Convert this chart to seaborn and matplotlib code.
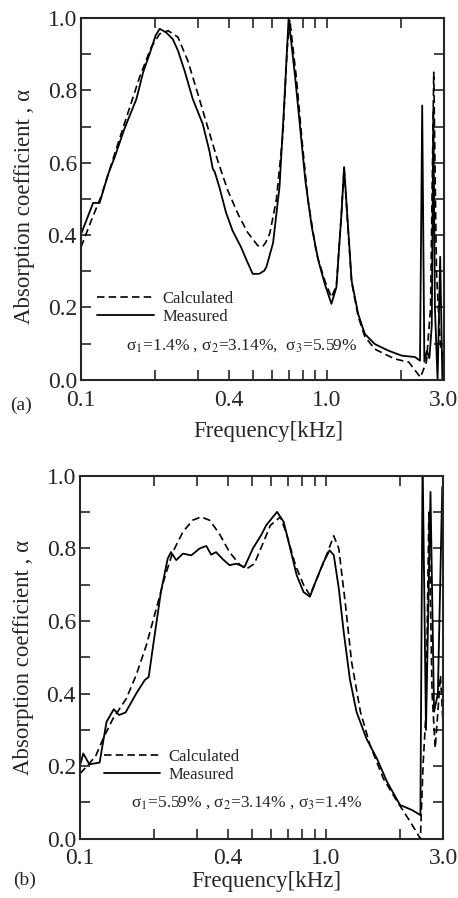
import numpy as np
import pandas as pd
import matplotlib
matplotlib.use("Agg")
import matplotlib.pyplot as plt
from matplotlib.ticker import FixedLocator, NullFormatter
import seaborn as sns

# ---------------------------------------------------------------
# Data (frequency in kHz, absorption coefficient)
# ---------------------------------------------------------------

# panel (a) : sigma1=1.4%, sigma2=3.14%, sigma3=5.59%
a_meas_f = [0.100, 0.112, 0.119, 0.129, 0.137, 0.150, 0.168, 0.179, 0.190, 0.201,
            0.209, 0.222, 0.236, 0.248, 0.264, 0.285, 0.313, 0.333, 0.344, 0.350,
            0.366, 0.389, 0.414, 0.448, 0.476, 0.500, 0.532, 0.558, 0.569, 0.605,
            0.643, 0.673, 0.700, 0.742, 0.782, 0.819, 0.870, 0.925, 0.983, 1.046,
            1.096, 1.149, 1.178, 1.218, 1.264, 1.344, 1.430, 1.570, 1.780, 2.020,
            2.290, 2.400, 2.450, 2.500, 2.560, 2.620, 2.680, 2.720, 2.760, 2.830,
            2.900, 2.960]
a_meas_alpha = [0.403, 0.489, 0.489, 0.569, 0.615, 0.693, 0.776, 0.850, 0.900, 0.951,
                0.970, 0.960, 0.942, 0.910, 0.854, 0.776, 0.707, 0.633, 0.583, 0.575,
                0.532, 0.463, 0.412, 0.367, 0.325, 0.293, 0.293, 0.302, 0.313, 0.378,
                0.534, 0.773, 0.998, 0.845, 0.689, 0.551, 0.422, 0.330, 0.265, 0.210,
                0.256, 0.459, 0.588, 0.440, 0.274, 0.182, 0.127, 0.099, 0.081, 0.067,
                0.063, 0.053, 0.758, 0.050, 0.080, 0.060, 0.150, 0.750, 0.200, 0.000,
                0.340, 0.000]

a_calc_f = [0.100, 0.110, 0.121, 0.133, 0.150, 0.173, 0.193, 0.209, 0.226, 0.248,
            0.272, 0.299, 0.328, 0.360, 0.396, 0.435, 0.476, 0.524, 0.549, 0.565,
            0.587, 0.624, 0.664, 0.690, 0.708, 0.755, 0.794, 0.840, 0.910, 0.983,
            1.046, 1.096, 1.149, 1.178, 1.218, 1.264, 1.344, 1.430, 1.570, 1.890,
            2.160, 2.410, 2.550, 2.650, 2.730, 2.800, 2.900, 3.000]
a_calc_alpha = [0.367, 0.440, 0.509, 0.597, 0.707, 0.836, 0.919, 0.956, 0.965, 0.947,
                0.882, 0.790, 0.698, 0.606, 0.523, 0.459, 0.408, 0.371, 0.368, 0.380,
                0.405, 0.497, 0.681, 0.910, 0.995, 0.827, 0.661, 0.495, 0.348, 0.274,
                0.228, 0.260, 0.460, 0.585, 0.430, 0.270, 0.175, 0.120, 0.085, 0.058,
                0.049, 0.007, 0.050, 0.200, 0.850, 0.300, 0.100, 0.050]

# panel (b) : sigma1=5.59%, sigma2=3.14%, sigma3=1.4%
b_meas_f = [0.100, 0.103, 0.109, 0.120, 0.128, 0.137, 0.144, 0.153, 0.169, 0.183,
            0.190, 0.200, 0.213, 0.227, 0.234, 0.246, 0.262, 0.283, 0.306, 0.326,
            0.341, 0.357, 0.381, 0.405, 0.431, 0.466, 0.504, 0.545, 0.571, 0.632,
            0.673, 0.715, 0.760, 0.810, 0.860, 0.917, 0.978, 1.034, 1.075, 1.127,
            1.180, 1.250, 1.330, 1.460, 1.610, 1.770, 2.000, 2.240, 2.420, 2.470,
            2.550, 2.660, 2.750, 2.850, 2.970]
b_meas_alpha = [0.203, 0.235, 0.205, 0.210, 0.322, 0.357, 0.341, 0.348, 0.400, 0.437,
                0.446, 0.552, 0.680, 0.772, 0.790, 0.768, 0.786, 0.781, 0.800, 0.807,
                0.783, 0.790, 0.770, 0.754, 0.758, 0.749, 0.800, 0.837, 0.864, 0.901,
                0.873, 0.800, 0.726, 0.680, 0.667, 0.717, 0.763, 0.795, 0.782, 0.690,
                0.570, 0.440, 0.350, 0.276, 0.221, 0.157, 0.093, 0.079, 0.065, 1.050,
                0.300, 0.956, 0.350, 0.400, 0.970]

b_calc_f = [0.100, 0.109, 0.116, 0.124, 0.136, 0.154, 0.169, 0.186, 0.204, 0.220,
            0.238, 0.262, 0.287, 0.310, 0.336, 0.368, 0.405, 0.445, 0.473, 0.511,
            0.553, 0.594, 0.652, 0.693, 0.751, 0.810, 0.860, 0.930, 1.010, 1.075,
            1.127, 1.200, 1.270, 1.380, 1.510, 1.710, 1.950, 2.200, 2.420, 2.480,
            2.550, 2.620, 2.700, 2.780, 2.850, 2.920, 3.000]
b_calc_alpha = [0.180, 0.207, 0.230, 0.276, 0.331, 0.386, 0.451, 0.534, 0.634, 0.717,
                0.790, 0.846, 0.878, 0.887, 0.878, 0.841, 0.790, 0.756, 0.743, 0.758,
                0.813, 0.864, 0.887, 0.837, 0.754, 0.700, 0.671, 0.726, 0.786, 0.835,
                0.800, 0.644, 0.488, 0.350, 0.258, 0.166, 0.102, 0.047, 0.000, 0.200,
                0.350, 0.900, 0.400, 0.250, 0.350, 0.450, 0.300]

x_ticks = [0.1, 0.4, 1.0, 3.0]
x_ticklabels = ["0.1", "0.4", "1.0", "3.0"]
x_minor = [0.2, 0.3, 0.5, 0.6, 0.7, 0.8, 0.9, 2.0]
y_ticks = [0.0, 0.2, 0.4, 0.6, 0.8, 1.0]
y_ticklabels = ["0.0", "0.2", "0.4", "0.6", "0.8", "1.0"]
y_minor = [0.1, 0.3, 0.5, 0.7, 0.9]

sigma_a = "σ$_1$=1.4% , σ$_2$=3.14%,  σ$_3$=5.59%"
sigma_b = "σ$_1$=5.59% , σ$_2$=3.14% , σ$_3$=1.4%"

# ---------------------------------------------------------------
# Style
# ---------------------------------------------------------------
sns.set_style("ticks")
plt.rcParams["font.family"] = ["Liberation Serif", "DejaVu Serif"]
plt.rcParams["mathtext.fontset"] = "stix"
plt.rcParams["axes.linewidth"] = 1.5

fig = plt.figure(figsize=(4.58, 8.98), dpi=100)
ax_a = fig.add_axes([0.177, 0.577, 0.792, 0.403])
ax_b = fig.add_axes([0.175, 0.066, 0.793, 0.404])


def draw_panel(ax, meas_f, meas_a, calc_f, calc_a, sigma_txt, legend_xy, sigma_xy):
    calc = pd.DataFrame({"f": calc_f, "alpha": calc_a})
    meas = pd.DataFrame({"f": meas_f, "alpha": meas_a})
    sns.lineplot(data=calc, x="f", y="alpha", ax=ax, color="black", lw=1.2,
                 linestyle=(0, (4.5, 2.5)), sort=False, estimator=None, label="Calculated")
    sns.lineplot(data=meas, x="f", y="alpha", ax=ax, color="black", lw=1.3,
                 sort=False, estimator=None, label="Measured")

    ax.set_xscale("log")
    ax.set_xlim(0.1, 3.0)
    ax.set_ylim(0.0, 1.0)
    ax.xaxis.set_major_locator(FixedLocator(x_ticks))
    ax.xaxis.set_minor_locator(FixedLocator(x_minor))
    ax.xaxis.set_minor_formatter(NullFormatter())
    ax.set_xticklabels(x_ticklabels)
    ax.set_yticks(y_ticks)
    ax.set_yticklabels(y_ticklabels)
    ax.yaxis.set_minor_locator(FixedLocator(y_minor))
    ax.tick_params(which="both", direction="in", top=True, right=True,
                   length=7, width=1.2, labelsize=17)
    ax.tick_params(axis="x", pad=7)
    ax.tick_params(axis="y", pad=3)

    ax.set_xlabel("Frequency[kHz]", fontsize=16.5)
    ax.set_ylabel("Absorption coefficient , α", fontsize=16.5)
    for s in ax.spines.values():
        s.set_linewidth(1.5)

    ax.legend(loc="upper left", bbox_to_anchor=legend_xy, frameon=False,
              fontsize=12, handlelength=3.4, handletextpad=0.5,
              labelspacing=0.1, borderpad=0, borderaxespad=0)
    ax.text(sigma_xy[0], sigma_xy[1], sigma_txt, transform=ax.transAxes,
            ha="center", va="center", fontsize=12.5)


draw_panel(ax_a, a_meas_f, a_meas_alpha, a_calc_f, a_calc_alpha, sigma_a,
           (0.045, 0.245), (0.443, 0.095))
draw_panel(ax_b, b_meas_f, b_meas_alpha, b_calc_f, b_calc_alpha, sigma_b,
           (0.065, 0.247), (0.457, 0.100))

ax_a.xaxis.set_label_coords(0.515, -0.113)
ax_b.xaxis.set_label_coords(0.512, -0.088)
ax_a.yaxis.set_label_coords(-0.128, 0.478)
ax_b.yaxis.set_label_coords(-0.126, 0.50)

fig.text(0.022, 0.549, "(a)", fontsize=14, va="center", ha="left")
fig.text(0.028, 0.020, "(b)", fontsize=14, va="center", ha="left")

fig.savefig("out.png", dpi=100)
